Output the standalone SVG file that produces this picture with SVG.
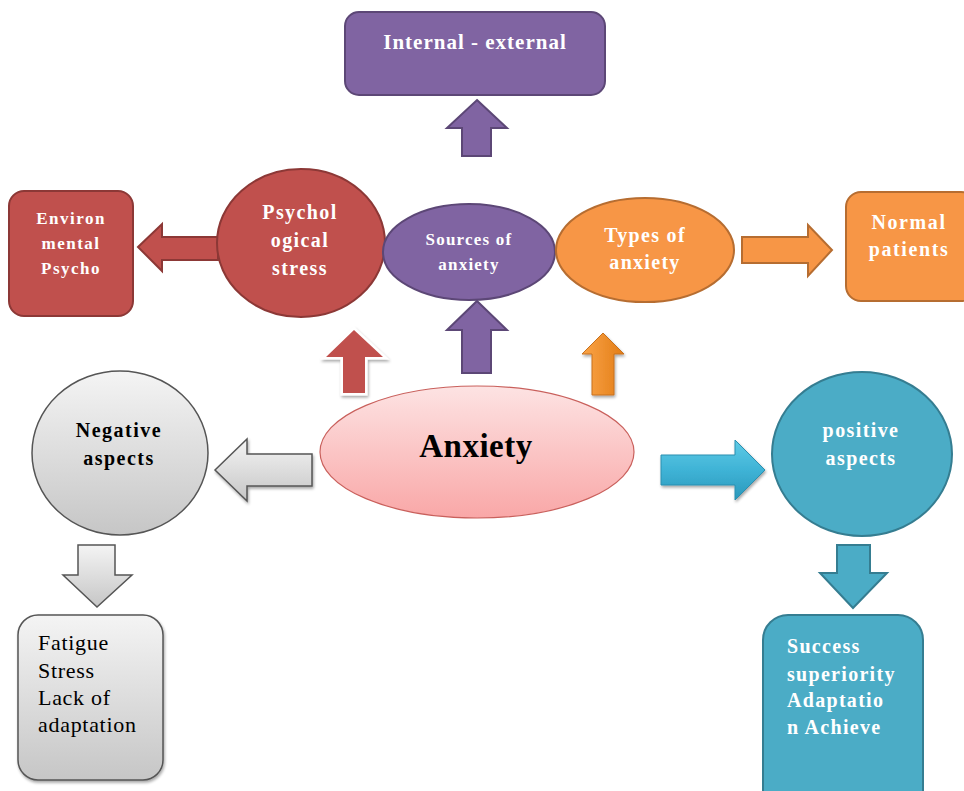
<svg xmlns="http://www.w3.org/2000/svg" width="964" height="791" viewBox="0 0 964 791">
<defs>
<linearGradient id="gPink" x1="0" y1="0" x2="0" y2="1"><stop offset="0" stop-color="#fde3e3"/><stop offset="1" stop-color="#f9a7a7"/></linearGradient>
<linearGradient id="gGray" x1="0" y1="0" x2="0" y2="1"><stop offset="0" stop-color="#f4f4f4"/><stop offset="1" stop-color="#c6c6c6"/></linearGradient>
<linearGradient id="gOrange" x1="0" y1="0" x2="1" y2="0"><stop offset="0" stop-color="#fba447"/><stop offset="1" stop-color="#e27d17"/></linearGradient>
<linearGradient id="gBlue" x1="0" y1="0" x2="0" y2="1"><stop offset="0" stop-color="#5fcbe6"/><stop offset="0.5" stop-color="#3fb3d6"/><stop offset="1" stop-color="#2a98bb"/></linearGradient>
<filter id="sh" x="-20%" y="-20%" width="140%" height="140%"><feGaussianBlur in="SourceAlpha" stdDeviation="1.5"/><feOffset dx="1" dy="2"/><feComponentTransfer><feFuncA type="linear" slope="0.35"/></feComponentTransfer><feMerge><feMergeNode/><feMergeNode in="SourceGraphic"/></feMerge></filter>
<style>
.t{font-family:"Liberation Serif","Times New Roman",serif;font-weight:bold;fill:#fff;text-anchor:middle}
.k{fill:#000}
.l{text-anchor:start}
.r{font-weight:normal}
.purple{fill:#8064a2;stroke:#5c4776;stroke-width:2}
.red{fill:#c0504d;stroke:#8c3836;stroke-width:2}
.orange{fill:#f79646;stroke:#b66d31;stroke-width:2}
.blue{fill:#4bacc6;stroke:#357d91;stroke-width:2}
.gray{fill:url(#gGray);stroke:#555;stroke-width:1.5}
</style>
</defs>

<g id="connectors">
<path class="purple" d="M477,100 L507,128 L491,128 L491,156 L462,156 L462,128 L447,128 Z"/>
<path class="red" d="M138,247 L162,224 L162,237 L218,237 L218,260 L162,260 L162,271 Z"/>
<path class="orange" d="M742,237 L808,237 L808,225 L832,250 L808,276 L808,263 L742,263 Z"/>
<path d="M354,330 L383,357 L365,357 L365,393 L343,393 L343,357 L326,357 Z" fill="#c0504d" stroke="#fff" stroke-width="5" stroke-linejoin="miter" filter="url(#sh)"/>
<path d="M354,330 L383,357 L365,357 L365,393 L343,393 L343,357 L326,357 Z" fill="#c0504d"/>
<path class="purple" d="M477,301 L507,330 L491,330 L491,373 L462,373 L462,330 L447,330 Z"/>
<path d="M603,333 L624,354 L614,354 L614,395 L592,395 L592,354 L582,354 Z" fill="url(#gOrange)" stroke="#c7701e" stroke-width="1" filter="url(#sh)"/>
<path class="gray" d="M215,470 L247,439 L247,454 L312,454 L312,486 L247,486 L247,501 Z" filter="url(#sh)"/>
<path class="gray" d="M78,545 L115,545 L115,575 L132,575 L97,607 L63,575 L78,575 Z"/>
<path d="M661,455 L735,455 L735,440 L765,470 L735,500 L735,485 L661,485 Z" fill="url(#gBlue)" stroke="#2a8fb0" stroke-width="1" filter="url(#sh)"/>
<path class="blue" d="M837,545 L870,545 L870,573 L887,573 L853,608 L820,573 L837,573 Z"/>
</g>

<g id="internal-external">
<rect class="purple" x="345" y="12" width="260" height="83" rx="14"/>
<text class="t" x="475" y="49" font-size="21" letter-spacing="1">Internal - external</text>
</g>

<g id="environmental">
<rect class="red" x="9" y="191" width="124" height="125" rx="15"/>
<text class="t" font-size="17" letter-spacing="1.5"><tspan x="71" y="224">Environ</tspan><tspan x="71" y="249">mental</tspan><tspan x="71" y="274">Psycho</tspan></text>
</g>

<g id="psychological-stress">
<ellipse class="red" cx="301" cy="243" rx="84" ry="74"/>
<text class="t" font-size="20" letter-spacing="1.4"><tspan x="300" y="219">Psychol</tspan><tspan x="300" y="247">ogical</tspan><tspan x="300" y="275">stress</tspan></text>
</g>

<g id="sources">
<ellipse class="purple" cx="469" cy="252" rx="86" ry="48"/>
<text class="t" font-size="17" letter-spacing="1.2"><tspan x="469" y="245">Sources of</tspan><tspan x="469" y="270">anxiety</tspan></text>
</g>

<g id="types">
<ellipse class="orange" cx="645" cy="250" rx="89" ry="52"/>
<text class="t" font-size="20" letter-spacing="1.3"><tspan x="645" y="242">Types of</tspan><tspan x="645" y="269">anxiety</tspan></text>
</g>

<g id="normal-patients">
<rect class="orange" x="846" y="192" width="130" height="109" rx="15"/>
<text class="t" font-size="20" letter-spacing="1.6"><tspan x="909" y="229">Normal</tspan><tspan x="909" y="256">patients</tspan></text>
</g>

<g id="anxiety">
<ellipse cx="477" cy="452" rx="157" ry="66" fill="url(#gPink)" stroke="#c9605c" stroke-width="1.2"/>
<text class="t k" x="476" y="457" font-size="33" letter-spacing="0.5">Anxiety</text>
</g>

<g id="negative">
<ellipse class="gray" cx="120" cy="453" rx="88" ry="82"/>
<text class="t k" font-size="20" letter-spacing="1.5"><tspan x="119" y="437">Negative</tspan><tspan x="119" y="465">aspects</tspan></text>
</g>

<g id="fatigue">
<rect class="gray" x="18" y="615" width="145" height="165" rx="20" filter="url(#sh)"/>
<text class="t k l r" font-size="22" letter-spacing="0.7"><tspan x="38" y="650">Fatigue</tspan><tspan x="38" y="678">Stress</tspan><tspan x="38" y="705">Lack of</tspan><tspan x="38" y="732">adaptation</tspan></text>
</g>

<g id="positive">
<ellipse class="blue" cx="862" cy="454" rx="90" ry="82"/>
<text class="t" font-size="20" letter-spacing="1.4"><tspan x="861" y="437">positive</tspan><tspan x="861" y="465">aspects</tspan></text>
</g>

<g id="success">
<rect class="blue" x="763" y="615" width="160" height="200" rx="25"/>
<text class="t l" font-size="20" letter-spacing="1.3"><tspan x="787" y="653">Success</tspan><tspan x="787" y="681">superiority</tspan><tspan x="787" y="707">Adaptatio</tspan><tspan x="787" y="734">n Achieve</tspan></text>
</g>
</svg>
